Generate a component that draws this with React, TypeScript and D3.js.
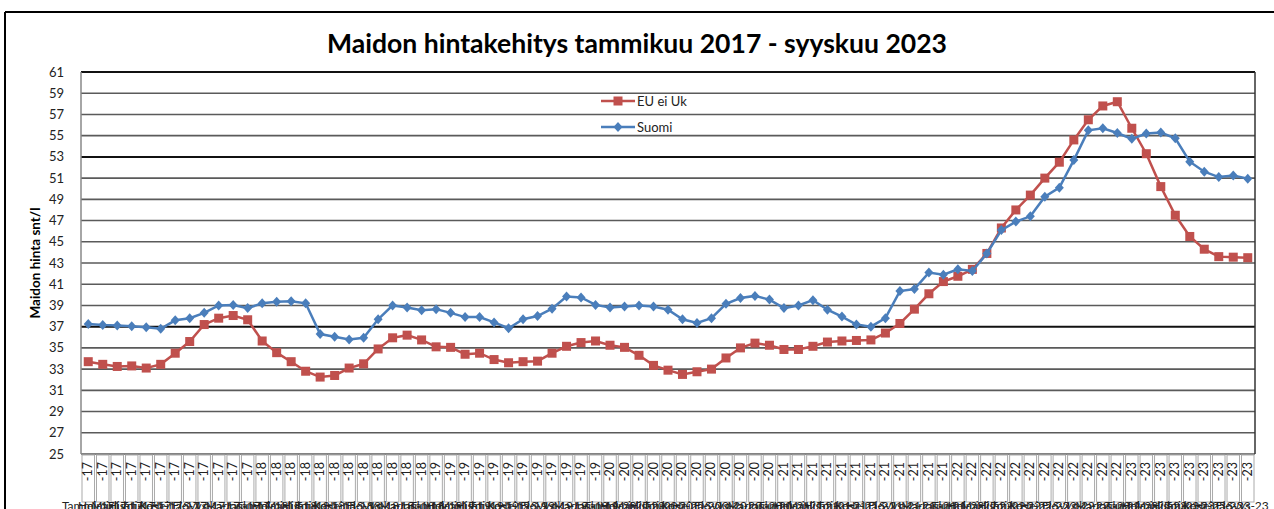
import React from 'react';
import * as d3 from 'd3';

// kuukaudet ja vuodet, tammikuu 2017 - syyskuu 2023
const months = ['Tammi', 'Helmi', 'Maalis', 'Huhti', 'Touko', 'Kesä', 'Heinä', 'Elo', 'Syys', 'Loka', 'Marras', 'Joulu'];
const years = ['17', '18', '19', '20', '21', '22', '23'];
const categories = years.flatMap(yy => months.map(m => m + '-' + yy)).slice(0, 81);

const euEiUk = [
  33.7, 33.45, 33.25, 33.3, 33.1, 33.45, 34.5, 35.6, 37.2, 37.8, 38.05, 37.65,
  35.65, 34.55, 33.7, 32.8, 32.25, 32.4, 33.1, 33.5, 34.9, 35.95, 36.2, 35.75,
  35.1, 35.05, 34.4, 34.5, 33.9, 33.6, 33.7, 33.75, 34.5, 35.15, 35.5, 35.65,
  35.25, 35.05, 34.3, 33.35, 32.9, 32.5, 32.75, 33.0, 34.05, 35.0, 35.45, 35.25,
  34.85, 34.85, 35.15, 35.55, 35.65, 35.7, 35.75, 36.4, 37.3, 38.65, 40.1, 41.25,
  41.75, 42.4, 43.9, 46.3, 48.0, 49.4, 51.0, 52.5, 54.6, 56.5, 57.8, 58.2,
  55.7, 53.3, 50.2, 47.5, 45.5, 44.3, 43.6, 43.55, 43.5
];

const suomi = [
  37.25, 37.15, 37.1, 37.05, 36.95, 36.8, 37.6, 37.8, 38.3, 39.0, 39.05, 38.75,
  39.2, 39.35, 39.4, 39.2, 36.3, 36.05, 35.8, 35.95, 37.7, 39.0, 38.8, 38.55,
  38.65, 38.3, 37.9, 37.9, 37.4, 36.85, 37.7, 38.0, 38.7, 39.85, 39.75, 39.05,
  38.8, 38.9, 39.0, 38.9, 38.6, 37.7, 37.35, 37.8, 39.15, 39.7, 39.9, 39.55,
  38.75, 39.0, 39.5, 38.6, 37.95, 37.2, 37.0, 37.8, 40.35, 40.55, 42.1, 41.9,
  42.4, 42.25, 43.9, 46.1, 46.9, 47.4, 49.25, 50.1, 52.7, 55.5, 55.7, 55.25,
  54.7, 55.2, 55.3, 54.75, 52.55, 51.6, 51.1, 51.25, 50.95
];

const yTicks = [25, 27, 29, 31, 33, 35, 37, 39, 41, 43, 45, 47, 49, 51, 53, 55, 57, 59, 61];

const RED = '#C0504D';
const BLUE = '#4A7EBB';
const FONT = 'Lato, "Open Sans", sans-serif';

export default function App() {
  const W = 1274, H = 509;
  const left = 81, right = 1255, top = 72, bottom = 454;

  const x = d3.scaleBand().domain(categories).range([left, right]).padding(0);
  const y = d3.scaleLinear().domain([25, 61]).range([bottom, top]);
  const cx = (i) => x(categories[i]) + x.bandwidth() / 2;

  const line = d3.line<number>()
    .x((d, i) => cx(i))
    .y(d => y(d));

  const diamond = (px, py) => `M${px},${py - 5}L${px + 4.5},${py}L${px},${py + 5}L${px - 4.5},${py}Z`;

  return (
    <svg width={W} height={H} style={{position: 'absolute', left: 0, top: 0, background: '#fff'}}>
      {/* kaavion reunus */}
      <line x1={5} x2={W} y1={12} y2={12} stroke="#000" strokeWidth={2} />
      <line x1={5} x2={5} y1={12} y2={H} stroke="#000" strokeWidth={2} />

      <text x={637} y={53} textAnchor="middle" fontFamily={FONT} fontWeight="bold" fontSize={27}
        textLength={620} lengthAdjust="spacingAndGlyphs" fill="#000">
        Maidon hintakehitys tammikuu 2017 - syyskuu 2023
      </text>

      {/* vaakaviivat */}
      {yTicks.map(t => (
        <line key={'g' + t} x1={left} x2={right} y1={y(t)} y2={y(t)}
          stroke={t === 37 || t === 53 || t === 61 ? '#111' : '#5a5a5a'}
          strokeWidth={t === 37 || t === 53 || t === 61 ? 2 : 1.6} />
      ))}
      <line x1={left} x2={left} y1={top} y2={bottom} stroke="#888" strokeWidth={1.5} />
      <line x1={right} x2={right} y1={top} y2={bottom} stroke="#333" strokeWidth={1.5} />

      {yTicks.map(t => (
        <text key={'t' + t} x={64} y={y(t) + 4.5} textAnchor="end" fontFamily={FONT} fontSize={13} fill="#222">{t}</text>
      ))}

      <text transform={`translate(40,${(top + bottom) / 2}) rotate(-90)`} textAnchor="middle"
        fontFamily={FONT} fontWeight="bold" fontSize={13.5} fill="#000">Maidon hinta snt/l</text>

      {/* luokkalaatikot */}
      {categories.map(c => (
        <rect key={'b' + c} x={x(c) + 1} y={bottom + 1} width={x.bandwidth() - 2} height={47}
          fill="none" stroke="#aaa" strokeWidth={1} />
      ))}
      {categories.map((c, i) => (
        <text key={'r' + c} transform={`translate(${cx(i) + 4},${bottom + 8}) rotate(-90)`}
          textAnchor="end" fontFamily={FONT} fontSize={12.5} fill="#222">{c.slice(c.indexOf('-'))}</text>
      ))}
      {categories.map((c, i) => (
        <text key={'h' + c} x={cx(i)} y={H + 1} textAnchor="middle" fontFamily={FONT} fontSize={12} fill="#222">{c}</text>
      ))}

      {/* sarjat */}
      <path d={line(euEiUk)} fill="none" stroke={RED} strokeWidth={2.5} />
      {euEiUk.map((v, i) => (
        <rect key={'e' + i} x={cx(i) - 4.5} y={y(v) - 4.5} width={9} height={9} fill={RED} />
      ))}
      <path d={line(suomi)} fill="none" stroke={BLUE} strokeWidth={2.5} />
      {suomi.map((v, i) => (
        <path key={'s' + i} d={diamond(cx(i), y(v))} fill={BLUE} />
      ))}

      {/* selite */}
      <line x1={601} x2={635} y1={101} y2={101} stroke={RED} strokeWidth={2.5} />
      <rect x={613.5} y={96.5} width={9} height={9} fill={RED} />
      <text x={637} y={105.5} fontFamily={FONT} fontSize={13} fill="#222">EU ei Uk</text>
      <line x1={601} x2={635} y1={127} y2={127} stroke={BLUE} strokeWidth={2.5} />
      <path d={diamond(618, 127)} fill={BLUE} />
      <text x={637} y={131.5} fontFamily={FONT} fontSize={13} fill="#222">Suomi</text>
    </svg>
  );
}
